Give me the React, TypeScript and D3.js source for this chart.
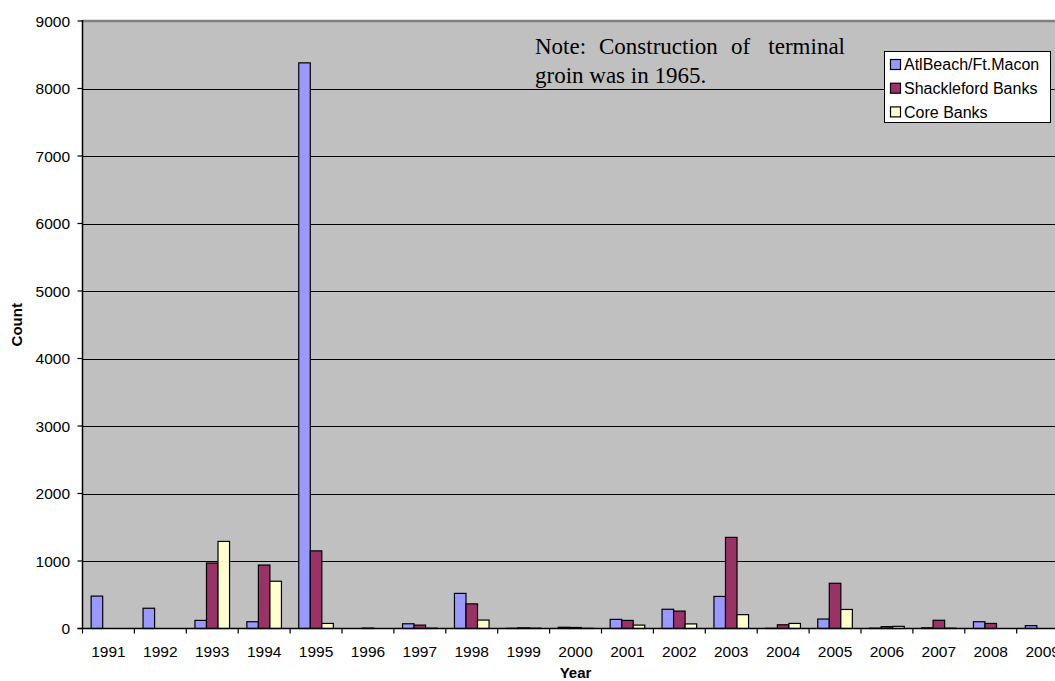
import React from "react";
import * as d3 from "d3";

const years = ["1991","1992","1993","1994","1995","1996","1997","1998","1999","2000","2001","2002","2003","2004","2005","2006","2007","2008","2009"];
const atlBeach = [480, 300, 120, 100, 8380, 0, 70, 520, 3, 18, 135, 285, 475, 3, 140, 5, 10, 100, 42];
const shackleford = [0, 0, 970, 940, 1150, 6, 50, 365, 10, 15, 120, 258, 1350, 55, 670, 28, 122, 75, 0];
const coreBanks = [0, 0, 1290, 700, 75, 0, 5, 125, 5, 3, 50, 68, 205, 75, 282, 32, 5, 0, 0];
const seriesNames = ["AtlBeach/Ft.Macon", "Shackleford Banks", "Core Banks"];
const seriesColors = ["#9999FF", "#993366", "#FFFFCC"];
const yTicks = [0, 1000, 2000, 3000, 4000, 5000, 6000, 7000, 8000, 9000];
const noteLine1 = ["Note:", "Construction", "of", "terminal"];
const noteLine2 = "groin was in 1965.";

export default function App() {
  const W = 1055, H = 681;
  const left = 82.5, top = 21, bottom = 628.5;
  const right = left + 19 * 51.9;
  const series = [atlBeach, shackleford, coreBanks];

  const x = d3.scaleBand<string>().domain(years).range([left, right]).paddingInner(0).paddingOuter(0);
  const y = d3.scaleLinear().domain([0, 9000]).range([bottom, top]);
  const bw = x.bandwidth() / 4.5;
  const font = "Arial, 'Liberation Sans', sans-serif";
  const fs = 15.5;

  const noteX0 = 535, noteX1 = 845;
  const noteWordX = [noteX0, 599, 731, noteX1];

  return (
    <svg width={W} height={H} style={{ position: "absolute", left: 0, top: 0, display: "block", overflow: "hidden" }}>
      <rect x={0} y={0} width={W} height={H} fill="#fff" />
      <rect x={left} y={top} width={right - left} height={bottom - top} fill="#C0C0C0" />
      <line x1={left} x2={right} y1={top} y2={top} stroke="#808080" strokeWidth={2.5} />
      {yTicks.slice(1, -1).map(t => (
        <line key={t} x1={left} x2={right} y1={Math.round(y(t)) + 0.5} y2={Math.round(y(t)) + 0.5} stroke="#000" strokeWidth={1.2} />
      ))}
      {series.map((vals, si) =>
        vals.map((v, i) => {
          if (v <= 0) return null;
          const x0 = (x(years[i]) as number) + bw * 0.75 + si * bw;
          const yt = y(v);
          return (
            <rect key={si + "-" + i} x={x0} y={yt} width={bw} height={Math.max(0, bottom - yt)}
              fill={seriesColors[si]} stroke="#000" strokeWidth={1.2} />
          );
        })
      )}
      <line x1={left} x2={left} y1={top - 1} y2={bottom + 0.5} stroke="#000" strokeWidth={1.5} />
      <line x1={left - 5} x2={right} y1={bottom} y2={bottom} stroke="#000" strokeWidth={1.5} />
      {yTicks.map(t => (
        <g key={"yt" + t}>
          <line x1={left - 5} x2={left} y1={y(t)} y2={y(t)} stroke="#000" strokeWidth={1.2} />
          <text x={70} y={y(t)} dy="0.36em" textAnchor="end" fontFamily={font} fontSize={fs} fill="#000">{t}</text>
        </g>
      ))}
      {years.map(yr => (
        <line key={"xt" + yr} x1={(x(yr) as number)} x2={(x(yr) as number)} y1={bottom} y2={bottom + 5} stroke="#000" strokeWidth={1.2} />
      ))}
      <line x1={right} x2={right} y1={bottom} y2={bottom + 5} stroke="#000" strokeWidth={1.2} />
      {years.map(yr => (
        <text key={"xl" + yr} x={(x(yr) as number) + x.bandwidth() / 2} y={657} textAnchor="middle" fontFamily={font} fontSize={fs} fill="#000">{yr}</text>
      ))}
      <text x={(left + right) / 2} y={678} textAnchor="middle" fontFamily={font} fontSize={15} fontWeight="bold">Year</text>
      <text transform={`translate(22, ${(top + bottom) / 2}) rotate(-90)`} textAnchor="middle" fontFamily={font} fontSize={15} fontWeight="bold">Count</text>

      <g fontFamily="'Liberation Serif', 'Times New Roman', serif" fontSize={23} fill="#000">
        {noteLine1.map((w, i) => (
          <text key={w} x={noteWordX[i]} y={54} textAnchor={i === noteLine1.length - 1 ? "end" : "start"}>{w}</text>
        ))}
        <text x={noteX0} y={83}>{noteLine2}</text>
      </g>

      <g>
        <rect x={884.5} y={51.5} width={166} height={71} fill="#fff" stroke="#000" strokeWidth={1} />
        {seriesNames.map((n, i) => (
          <g key={n}>
            <rect x={890.5} y={59.5 + i * 23.7} width={10} height={10} fill={seriesColors[i]} stroke="#000" strokeWidth={1.2} />
            <text x={904} y={64.6 + i * 23.7} dy="0.36em" fontFamily={font} fontSize={16} fill="#000">{n}</text>
          </g>
        ))}
      </g>
    </svg>
  );
}
